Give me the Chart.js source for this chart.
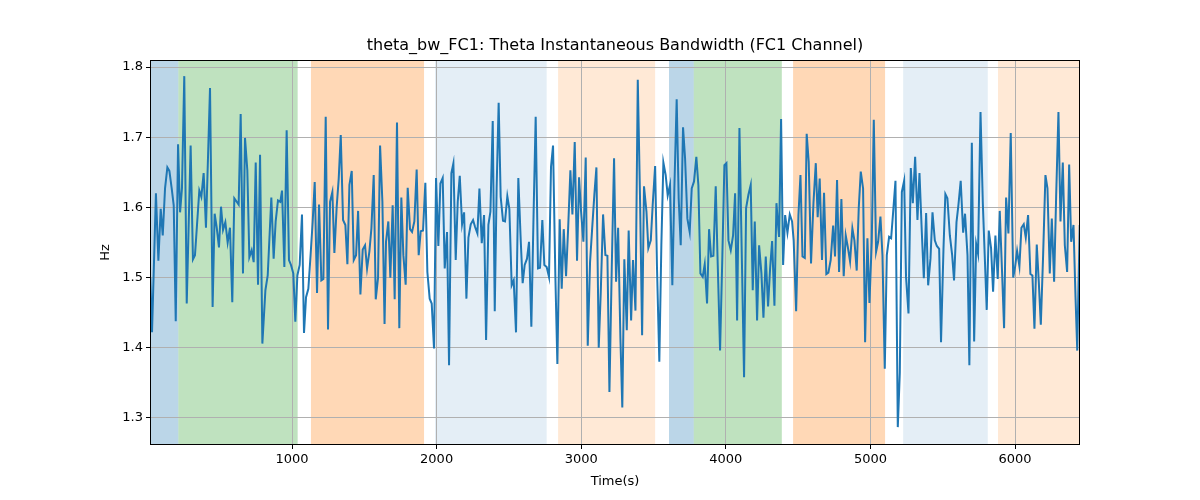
<!DOCTYPE html>
<html>
<head>
<meta charset="utf-8">
<script src="https://cdn.jsdelivr.net/npm/chart.js@4.4.1/dist/chart.umd.min.js"></script>
<style>
  html, body { margin: 0; padding: 0; background: #fff; }
  #wrap { width: 1200px; height: 500px; }
</style>
</head>
<body>
<div id="wrap"><canvas id="bwChart" width="1200" height="500"></canvas></div>
<script>
// sample times (s) and bandwidth (Hz)
const times = [
    20, 32, 59, 76, 92, 106, 122, 138, 152, 168,
    182, 196, 212, 226, 239, 255, 272, 299, 315, 329,
    359, 373, 389, 405, 433, 451, 465, 479, 495, 509,
    523, 539, 555, 571, 587, 601, 631, 645, 661, 675,
    691, 705, 721, 735, 749, 765, 779, 795,
    816, 832, 857, 873, 887, 903, 919, 931, 947, 963,
    979, 993, 1009, 1023, 1037, 1053, 1069, 1083, 1097, 1113,
    1129, 1143, 1157, 1173, 1187, 1203, 1217, 1233, 1249, 1263,
    1279, 1293, 1309, 1323, 1337, 1353, 1369, 1383, 1397, 1413,
    1427, 1443, 1457, 1473, 1489, 1505, 1519, 1535, 1549, 1565,
    1579, 1595, 1609, 1625, 1640,
    1650, 1666, 1680, 1696, 1710, 1726, 1742, 1756, 1770, 1786,
    1800, 1816, 1830, 1846, 1862, 1876, 1890, 1906, 1922, 1936,
    1952, 1966, 1982, 1996, 2012, 2026, 2042, 2056, 2072, 2086,
    2102, 2116, 2132, 2146, 2160, 2176, 2190, 2206, 2220, 2236,
    2252, 2266, 2282, 2296, 2312, 2328, 2342, 2358, 2372, 2388,
    2402, 2415, 2429, 2443, 2459, 2473,
    2489, 2503, 2519, 2533, 2549, 2565, 2582, 2595, 2609, 2625,
    2639, 2655, 2671, 2685, 2701, 2715, 2731, 2745, 2761, 2777,
    2791, 2805, 2821, 2835, 2851, 2865, 2879, 2895, 2909, 2925,
    2939, 2955, 2971, 2985, 2999, 3015, 3031, 3045, 3061, 3075,
    3091, 3105, 3121, 3135, 3151, 3167, 3181, 3195, 3211, 3227,
    3241, 3255, 3271, 3284, 3298,
    3315, 3328, 3345, 3358, 3375, 3391, 3407, 3421, 3434, 3451,
    3464, 3481, 3494, 3511, 3524, 3540, 3554, 3568, 3584, 3598,
    3614, 3630, 3644, 3660, 3674, 3688, 3704, 3718, 3734, 3750,
    3764, 3780, 3796, 3810, 3824, 3840, 3854, 3870, 3884, 3898,
    3914, 3930, 3944, 3960, 3976, 3990, 4004, 4018, 4034, 4050,
    4064, 4078, 4094, 4112, 4126,
    4140, 4156, 4172, 4186, 4200, 4216, 4230, 4246, 4260, 4276,
    4292, 4306, 4320, 4336, 4350, 4359, 4368, 4382, 4396, 4410,
    4426, 4442, 4458, 4469, 4486, 4502, 4516, 4530, 4546, 4559,
    4573, 4589, 4606, 4622, 4635, 4649, 4665, 4679, 4695, 4709,
    4725, 4742, 4755, 4769, 4783, 4799, 4815, 4829, 4843, 4859,
    4875, 4889, 4905, 4919, 4933, 4949, 4963,
    4979, 4993, 5009, 5023, 5039, 5053, 5069, 5083, 5099, 5113,
    5129, 5143, 5159, 5173, 5189, 5203, 5217, 5233, 5246, 5263,
    5279, 5293, 5309, 5325, 5339, 5355, 5369, 5385, 5399, 5415,
    5429, 5445, 5459, 5475, 5488, 5505, 5518, 5532, 5549, 5565,
    5578, 5595, 5608, 5624, 5641, 5654, 5671, 5684, 5701, 5717,
    5731, 5744, 5761, 5777,
    5804, 5818, 5834, 5848, 5864, 5880, 5894, 5910, 5924, 5938,
    5954, 5970, 5987, 6000, 6014, 6030, 6044, 6060, 6074, 6090,
    6106, 6120, 6134, 6150, 6164, 6178, 6194, 6210, 6224, 6240,
    6254, 6270, 6284, 6300, 6314, 6330, 6344, 6360, 6374, 6388,
    6404, 6418, 6430, 6447
];

const hz = [
    1.500, 1.422, 1.620, 1.524, 1.598, 1.560, 1.627, 1.657, 1.652, 1.627,
    1.603, 1.438, 1.690, 1.593, 1.627, 1.787, 1.463, 1.688, 1.526, 1.532,
    1.624, 1.615, 1.649, 1.571, 1.770, 1.458, 1.591, 1.572, 1.543, 1.601,
    1.568, 1.579, 1.550, 1.571, 1.465, 1.613, 1.604, 1.733, 1.506, 1.699,
    1.653, 1.529, 1.539, 1.522, 1.664, 1.490, 1.675, 1.406,
    1.482, 1.503, 1.614, 1.527, 1.580, 1.610, 1.608, 1.624, 1.515, 1.710,
    1.525, 1.518, 1.506, 1.437, 1.503, 1.518, 1.590, 1.421, 1.472, 1.484,
    1.534, 1.580, 1.636, 1.478, 1.604, 1.496, 1.498, 1.729, 1.426, 1.608,
    1.622, 1.535, 1.601, 1.641, 1.703, 1.582, 1.575, 1.519, 1.632, 1.652,
    1.525, 1.532, 1.595, 1.476, 1.540, 1.546, 1.513, 1.537, 1.570, 1.646,
    1.469, 1.500, 1.688, 1.608, 1.434,
    1.551, 1.580, 1.500, 1.603, 1.469, 1.721, 1.428, 1.614, 1.532, 1.490,
    1.628, 1.569, 1.565, 1.580, 1.654, 1.532, 1.566, 1.567, 1.635, 1.508,
    1.470, 1.463, 1.399, 1.642, 1.545, 1.634, 1.642, 1.513, 1.565, 1.375,
    1.649, 1.663, 1.525, 1.608, 1.645, 1.576, 1.593, 1.470, 1.557, 1.576,
    1.582, 1.572, 1.563, 1.627, 1.549, 1.589, 1.411, 1.575, 1.594, 1.723,
    1.452, 1.628, 1.749, 1.615, 1.581, 1.580,
    1.616, 1.598, 1.489, 1.496, 1.422, 1.642, 1.551, 1.492, 1.518, 1.527,
    1.551, 1.430, 1.596, 1.729, 1.513, 1.514, 1.582, 1.518, 1.515, 1.501,
    1.658, 1.688, 1.503, 1.377, 1.583, 1.484, 1.569, 1.502, 1.568, 1.653,
    1.590, 1.693, 1.524, 1.643, 1.594, 1.551, 1.671, 1.403, 1.522, 1.568,
    1.619, 1.657, 1.400, 1.479, 1.590, 1.532, 1.531, 1.337, 1.513, 1.670,
    1.494, 1.571, 1.413, 1.315, 1.526,
    1.425, 1.567, 1.439, 1.525, 1.453, 1.782, 1.608, 1.418, 1.630, 1.594,
    1.542, 1.553, 1.603, 1.659, 1.513, 1.380, 1.546, 1.664, 1.646, 1.617,
    1.632, 1.489, 1.627, 1.754, 1.612, 1.546, 1.714, 1.670, 1.584, 1.565,
    1.627, 1.637, 1.672, 1.632, 1.506, 1.501, 1.519, 1.463, 1.569, 1.530,
    1.531, 1.630, 1.518, 1.396, 1.532, 1.660, 1.663, 1.553, 1.539, 1.560,
    1.620, 1.439, 1.713, 1.513, 1.358,
    1.599, 1.618, 1.632, 1.482, 1.580, 1.439, 1.546, 1.506, 1.443, 1.530,
    1.459, 1.513, 1.552, 1.460, 1.606, 1.580, 1.558, 1.726, 1.518, 1.589,
    1.564, 1.590, 1.580, 1.553, 1.452, 1.589, 1.646, 1.530, 1.528, 1.705,
    1.665, 1.520, 1.607, 1.663, 1.586, 1.641, 1.525, 1.621, 1.505, 1.507,
    1.525, 1.574, 1.530, 1.639, 1.508, 1.612, 1.502, 1.560, 1.544, 1.523,
    1.570, 1.553, 1.510, 1.599, 1.651, 1.627, 1.408,
    1.556, 1.464, 1.551, 1.725, 1.537, 1.551, 1.587, 1.532, 1.370, 1.532,
    1.558, 1.556, 1.599, 1.638, 1.287, 1.365, 1.622, 1.638, 1.501, 1.449,
    1.656, 1.606, 1.672, 1.582, 1.649, 1.565, 1.499, 1.592, 1.489, 1.527,
    1.593, 1.553, 1.545, 1.541, 1.408, 1.541, 1.619, 1.613, 1.560, 1.532,
    1.496, 1.579, 1.603, 1.638, 1.564, 1.591, 1.532, 1.375, 1.692, 1.409,
    1.548, 1.534, 1.736, 1.606,
    1.454, 1.567, 1.542, 1.480, 1.560, 1.498, 1.595, 1.508, 1.428, 1.614,
    1.563, 1.706, 1.500, 1.515, 1.538, 1.516, 1.571, 1.576, 1.557, 1.589,
    1.505, 1.503, 1.427, 1.547, 1.494, 1.433, 1.532, 1.646, 1.627, 1.506,
    1.584, 1.494, 1.615, 1.736, 1.580, 1.664, 1.546, 1.508, 1.661, 1.551,
    1.575, 1.472, 1.396, 1.575
];

const xTicks = [1000, 2000, 3000, 4000, 5000, 6000];
const yTicks = [1.3, 1.4, 1.5, 1.6, 1.7, 1.8];

// shaded state intervals (s)
const spanStart = [18, 214, 1131, 1989, 2840, 3607, 3778, 4465, 5226, 5882];
const spanEnd   = [214, 1039, 1913, 2761, 3511, 3778, 4387, 5101, 5811, 6449];
const spanKind  = ['blue', 'green', 'orange', 'paleBlue', 'paleOrange',
                   'blue', 'green', 'orange', 'paleBlue', 'paleOrange'];

const spanFill = {
    blue: 'rgba(31,119,180,0.30)',
    green: 'rgba(44,160,44,0.30)',
    orange: 'rgba(255,127,14,0.30)',
    paleBlue: 'rgba(31,119,180,0.12)',
    paleOrange: 'rgba(255,127,14,0.17)'
};

const FONT = "'DejaVu Sans', sans-serif";

const spansPlugin = {
    id: 'spans',
    beforeDraw(chart) {
        const { ctx, chartArea, scales } = chart;
        ctx.save();
        ctx.beginPath();
        ctx.rect(chartArea.left, chartArea.top, chartArea.right - chartArea.left, chartArea.bottom - chartArea.top);
        ctx.clip();
        spanStart.forEach((s, i) => {
            const x0 = scales.x.getPixelForValue(s);
            const x1 = scales.x.getPixelForValue(spanEnd[i]);
            ctx.fillStyle = spanFill[spanKind[i]];
            ctx.fillRect(x0, chartArea.top, x1 - x0, chartArea.bottom - chartArea.top);
        });
        ctx.restore();
    }
};

const framePlugin = {
    id: 'frame',
    afterDraw(chart) {
        const { ctx, chartArea } = chart;
        ctx.save();
        ctx.strokeStyle = '#000';
        ctx.lineWidth = 1;
        ctx.strokeRect(Math.round(chartArea.left) + 0.5, Math.round(chartArea.top) + 0.5,
            Math.round(chartArea.right - chartArea.left) - 1, Math.round(chartArea.bottom - chartArea.top) - 1);
        // title
        ctx.fillStyle = '#000';
        ctx.font = '16px ' + FONT;
        ctx.textAlign = 'center';
        ctx.textBaseline = 'middle';
        ctx.fillText('theta_bw_FC1: Theta Instantaneous Bandwidth (FC1 Channel)',
            (chartArea.left + chartArea.right) / 2, 46);
        ctx.restore();
    }
};

new Chart(document.getElementById('bwChart'), {
    type: 'line',
    data: {
        datasets: [{
            data: times.map((t, i) => ({ x: t, y: hz[i] })),
            borderColor: '#1f77b4',
            borderWidth: 2,
            pointRadius: 0,
            tension: 0,
            fill: false
        }]
    },
    options: {
        responsive: false,
        animation: false,
        layout: { padding: { left: 95, right: 120, top: 60, bottom: 0 } },
        plugins: {
            legend: { display: false },
            tooltip: { enabled: false }
        },
        scales: {
            x: {
                type: 'linear',
                min: 18,
                max: 6449,
                afterFit: (scale) => { scale.height = 55; },
                afterBuildTicks: (scale) => { scale.ticks = xTicks.map(v => ({ value: v })); },
                ticks: {
                    color: '#000',
                    font: { family: FONT, size: 13 },
                    padding: 3,
                    maxRotation: 0,
                    callback: (v) => String(v)
                },
                grid: { color: '#b0b0b0', lineWidth: 1, tickColor: '#000', tickLength: 4 },
                border: { display: false },
                title: {
                    display: true,
                    text: 'Time(s)',
                    color: '#000',
                    font: { family: FONT, size: 13 },
                    padding: { top: 0, bottom: 11 }
                }
            },
            y: {
                min: 1.2615,
                max: 1.81,
                afterFit: (scale) => { scale.width = 55; },
                afterBuildTicks: (scale) => { scale.ticks = yTicks.map(v => ({ value: v })); },
                ticks: {
                    color: '#000',
                    font: { family: FONT, size: 13 },
                    padding: 3,
                    callback: (v) => v.toFixed(1)
                },
                grid: { color: '#b0b0b0', lineWidth: 1, tickColor: '#000', tickLength: 4 },
                border: { display: false },
                title: {
                    display: true,
                    text: 'Hz',
                    color: '#000',
                    font: { family: FONT, size: 13 },
                    padding: { top: 3, bottom: 0 }
                }
            }
        }
    },
    plugins: [spansPlugin, framePlugin]
});
</script>
</body>
</html>
